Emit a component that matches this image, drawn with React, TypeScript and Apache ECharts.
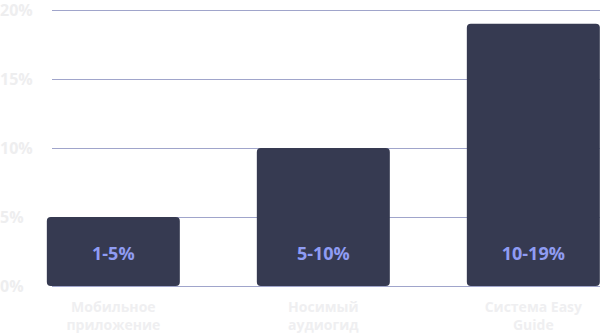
import React, { useEffect, useRef } from "react";
import * as echarts from "echarts";

const categories = ["Мобильное\nприложение", "Носимый\nаудиогид", "Система Easy\nGuide"];
const values = [5, 10, 19];
const barLabels = ["1-5%", "5-10%", "10-19%"];
const yTicks = [0, 5, 10, 15, 20];

export default function App() {
  const ref = useRef<HTMLDivElement>(null);
  useEffect(() => {
    const chart = echarts.init(ref.current!, null, { renderer: "svg" });
    const font = "'Open Sans', 'Noto Sans', sans-serif";
    chart.setOption({
      animation: false,
      grid: [
        { left: 52, right: 0, top: 10, bottom: 49, outerBoundsMode: "none" },
        { left: 8.33, width: 630, top: 10, bottom: 49, outerBoundsMode: "none" },
      ],
      xAxis: [
        { type: "category", gridIndex: 0, data: categories, show: false },
        {
          type: "category",
          gridIndex: 1,
          data: categories,
          axisLine: { show: false },
          axisTick: { show: false },
          axisLabel: {
            color: "#efeff1",
            fontFamily: font,
            fontWeight: "bold",
            fontSize: 14,
            lineHeight: 18,
            margin: 11,
          },
        },
      ],
      yAxis: [
        {
          type: "value",
          gridIndex: 0,
          min: 0,
          max: yTicks[yTicks.length - 1],
          interval: 5,
          axisLine: { show: false },
          axisTick: { show: false },
          splitLine: { lineStyle: { color: "#a0a5cb", width: 1 } },
          axisLabel: {
            formatter: "{value}%",
            align: "left",
            margin: 52,
            color: "#eeeeef",
            fontFamily: font,
            fontWeight: "bold",
            fontSize: 16,
          },
        },
        {
          type: "value",
          gridIndex: 1,
          min: 0,
          max: 20,
          show: false,
          splitLine: { show: false },
        },
      ],
      series: [
        {
          type: "bar",
          xAxisIndex: 1,
          yAxisIndex: 1,
          barWidth: 133,
          data: values,
          itemStyle: { color: "#363a51", borderRadius: 4 },
          label: {
            show: true,
            position: "insideBottom",
            distance: 24,
            formatter: (p: any) => barLabels[p.dataIndex],
            color: "#8f9cf3",
            fontFamily: font,
            fontWeight: "bold",
            fontSize: 18,
          },
        },
      ],
    });
    return () => chart.dispose();
  }, []);
  return (
    <div
      ref={ref}
      style={{ position: "fixed", left: 0, top: 0, width: 600, height: 335, background: "#fff" }}
    />
  );
}
